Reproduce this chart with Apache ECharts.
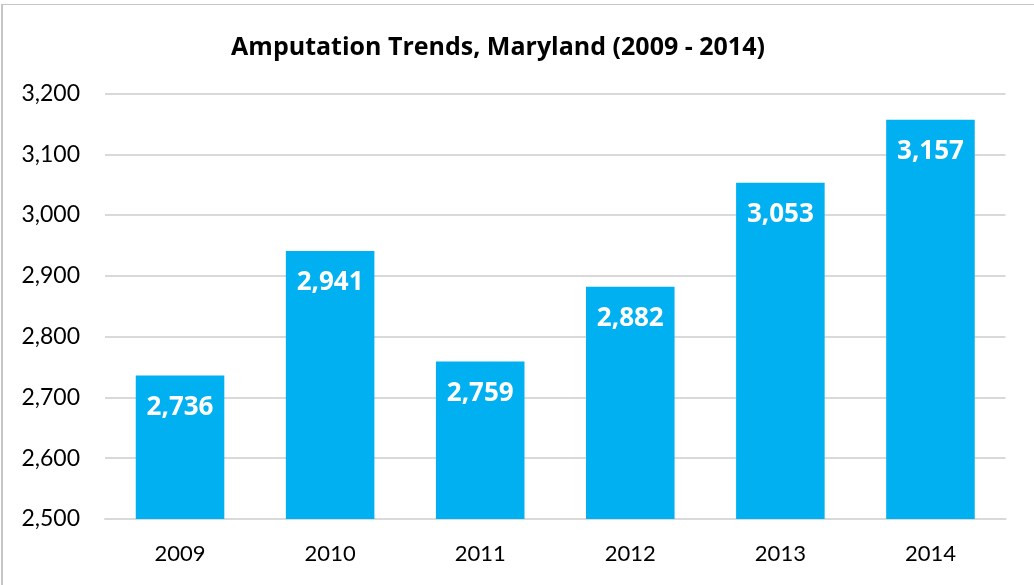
<!DOCTYPE html>
<html>
<head>
<meta charset="utf-8">
<script src="https://cdn.jsdelivr.net/npm/echarts@6/dist/echarts.min.js"></script>
<style>
  html, body { margin: 0; padding: 0; background: #fff; overflow: hidden; }
  #frame { position: absolute; left: 1px; top: 4px; width: 1100px; height: 700px;
           border-left: 2px solid #c6c6c6; border-top: 1.5px solid #c6c6c6; }
  #chart { position: absolute; left: 0; top: 0; width: 1034px; height: 585px; }
</style>
</head>
<body>
<div id="frame"></div>
<div id="chart"></div>
<script>
// Yearly amputation counts, Maryland
const years = ['2009', '2010', '2011', '2012', '2013', '2014'];
const amputations = [2736, 2941, 2759, 2882, 3053, 3157];
const yMin = 2500, yMax = 3200, yStep = 100;

const fmt = v => Number(v).toLocaleString('en-US');
const FONT = 'Lato, "Open Sans", sans-serif';
const TITLE_FONT = '"Open Sans", Lato, sans-serif';

const chart = echarts.init(document.getElementById('chart'), null, { renderer: 'canvas' });
chart.setOption({
  backgroundColor: 'transparent',
  animation: false,
  title: {
    text: 'Amputation Trends, Maryland (2009 - 2014)',
    left: 493, top: 30, textAlign: 'center',
    textStyle: { fontFamily: TITLE_FONT, fontWeight: 'bold', fontSize: 25, color: '#000' }
  },
  grid: { left: 105, right: 28.5, top: 93.5, bottom: 66, containLabel: false },
  xAxis: {
    type: 'category',
    data: years,
    axisTick: { show: false },
    axisLine: { lineStyle: { color: '#d9d9d9', width: 2 } },
    axisLabel: { fontFamily: FONT, fontSize: 22, color: '#000', margin: 24 }
  },
  yAxis: {
    type: 'value',
    min: yMin, max: yMax, interval: yStep,
    axisLine: { show: false },
    axisTick: { show: false },
    splitLine: { lineStyle: { color: '#d9d9d9', width: 2 } },
    axisLabel: { fontFamily: FONT, fontSize: 23, color: '#000', margin: 25, formatter: fmt }
  },
  series: [{
    type: 'bar',
    data: amputations,
    barWidth: '59%',
    itemStyle: { color: '#00B0F0' },
    label: {
      show: true,
      position: 'insideTop',
      distance: 19,
      formatter: p => fmt(p.value),
      fontFamily: TITLE_FONT, fontWeight: 'bold', fontSize: 26, color: '#fff'
    }
  }]
});
</script>
</body>
</html>
